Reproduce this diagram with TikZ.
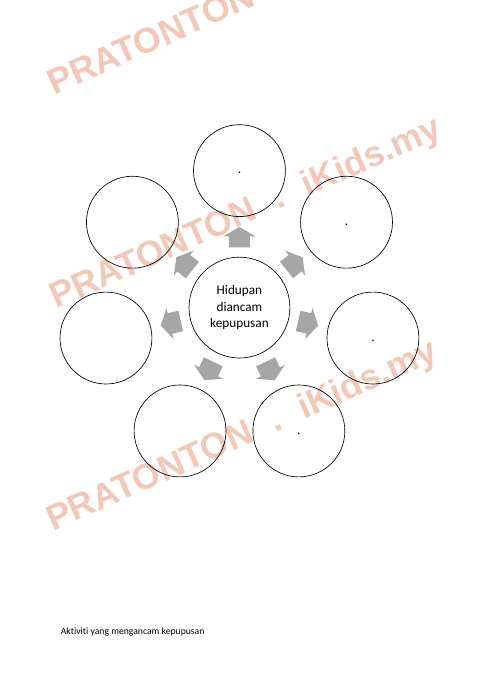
\documentclass[tikz,border=0pt]{standalone}
\usepackage{fontspec}
\setmainfont{Carlito}[Ligatures={NoCommon}]
\newfontfamily\markfont{Liberation Sans}
\usetikzlibrary{calc}
\definecolor{marksalmon}{RGB}{243,200,184}
\definecolor{arrowgray}{RGB}{166,166,166}

\begin{document}
\begin{tikzpicture}[
  bubble/.style={circle, draw=black, line width=0.8pt, minimum size=3.9cm, inner sep=0pt, font=\fontsize{16}{19.5}\selectfont},
  hub/.style={circle, draw=black, line width=0.8pt, minimum size=4.28cm, inner sep=0pt, align=center, font=\fontsize{16}{19.5}\selectfont},
  watermark/.style={anchor=base west, rotate=24, inner sep=0pt, text=marksalmon, font=\markfont\bfseries\fontsize{43}{50}\selectfont}
]
\useasboundingbox (0,0) rectangle (21,-29.7);
\begin{scope}
\clip (0,0) rectangle (21,-29.7);
\node [watermark] (mark1) at (2.30,-4.05) {PRATONTON\hspace{0.5cm} .\hspace{0.5cm} iKids.my};
\node [watermark] (mark2) at (2.40,-13.10) {PRATONTON\hspace{0.5cm} .\hspace{0.5cm} iKids.my};
\node [watermark] (mark3) at (2.25,-22.55) {PRATONTON\hspace{0.5cm} .\hspace{0.5cm} iKids.my};
\end{scope}
\node [hub] (hidup) at (10.16,-13.05) {Hidupan\\diancam\\kepupusan};
\foreach \i/\txt [evaluate=\i as \ang using 90-\i*360/7] in {0/.,1/.,2/.,3/.,4/{},5/{},6/{}} {
  \node [bubble] (b\i) at ($(hidup)+(\ang:5.81)$) {\strut\txt};
  \fill [arrowgray, shift={($(hidup)+(\ang:2.99)$)}, rotate=\ang]
    (-0.435,-0.445) -- (0.032,-0.445) -- (0.032,-0.68) -- (0.435,0)
    -- (0.032,0.68) -- (0.032,0.445) -- (-0.435,0.445) -- cycle;
}
\node [anchor=base west, inner sep=0pt, font=\fontsize{11.7}{14}\selectfont] (note) at (2.575,-26.94) {Aktiviti yang mengancam kepupusan};
\end{tikzpicture}
\end{document}
